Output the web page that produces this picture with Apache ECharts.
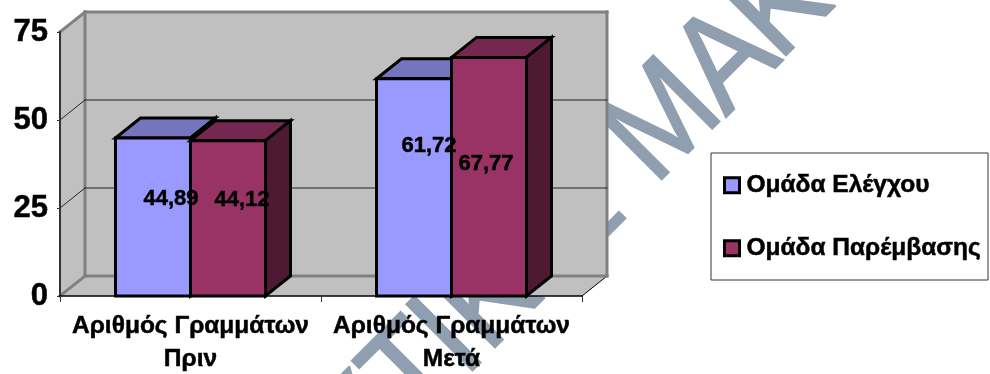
<!DOCTYPE html>
<html>
<head>
<meta charset="utf-8">
<style>html,body{margin:0;padding:0;background:#fff}#chart{width:990px;height:374px}</style>
<script src="https://cdn.jsdelivr.net/npm/echarts@6/dist/echarts.min.js"></script>
</head>
<body>
<div id="chart"></div>
<script>
// Chart data
const categories = ['Αριθμός Γραμμάτων\nΠριν', 'Αριθμός Γραμμάτων\nΜετά'];
const controlName = 'Ομάδα Ελέγχου';
const interventionName = 'Ομάδα Παρέμβασης';
const controlValues = [44.89, 61.72];
const interventionValues = [44.12, 67.77];
const yTicks = [0, 25, 50, 75];

// Pseudo-3D depth of the box and of the columns, in pixels
const DEPTH_X = 25;
const DEPTH_Y = 20;
const BAR_RATIO = 75 / 261;

const FONT = '"Liberation Sans", Arial, sans-serif';
const WALL = '#C0C0C0';
const WALL_EDGE = '#808080';

// Hand placement of the value labels relative to each column's centre
const labelShifts = {
  control: [[18, -18], [15, -41]],
  intervention: [[14, -18], [-3, -13]]
};

// Background wordmark, one rotated glyph at a time
const watermarkGlyphs = [
  ['Υ', 362, 433], ['Τ', 416, 376], ['Ι', 450, 340], ['Κ', 490, 299],
  ['Η', 545, 244], ['–', 596, 237], ['Μ', 664, 124], ['Α', 728, 62],
  ['Κ', 781, 7], ['Ε', 839, -50]
];

function line(x1, y1, x2, y2, stroke, width) {
  return { type: 'line', shape: { x1, y1, x2, y2 }, style: { stroke, lineWidth: width, lineCap: 'square' } };
}
function poly(points, fill) {
  return { type: 'polygon', shape: { points }, style: { fill, stroke: '#000', lineWidth: 3, lineJoin: 'miter' } };
}

// Floor, walls and gridlines: one row per tick value
function renderBox(params, api) {
  const value = api.value(0);
  const sys = params.coordSys;
  const left = sys.x, right = sys.x + sys.width;
  const y = api.coord([0, value])[1];
  const top = api.coord([0, yTicks[yTicks.length - 1]])[1];
  const base = api.coord([0, 0])[1];
  const children = [];
  if (params.dataIndex === 0) {
    children.push({
      type: 'polygon',
      shape: { points: [[left, top], [left + DEPTH_X, top - DEPTH_Y], [right + DEPTH_X, top - DEPTH_Y], [right + DEPTH_X, base - DEPTH_Y], [right, base], [left, base]] },
      style: { fill: WALL }
    });
    children.push(line(left + DEPTH_X, top - DEPTH_Y, left + DEPTH_X, base - DEPTH_Y, WALL_EDGE, 3));
    children.push(line(right + DEPTH_X, top - DEPTH_Y, right + DEPTH_X, base - DEPTH_Y, WALL_EDGE, 3));
    children.push(line(right, base, right + DEPTH_X, base - DEPTH_Y, '#000', 1));
  }
  const edge = value === 0 || value === yTicks[yTicks.length - 1];
  children.push(line(left + DEPTH_X, y - DEPTH_Y, right + DEPTH_X, y - DEPTH_Y, edge ? WALL_EDGE : '#222', edge ? 3 : 1));
  children.push(line(left, y, left + DEPTH_X, y - DEPTH_Y, edge ? WALL_EDGE : '#222', edge ? 3 : 1));
  return { type: 'group', children };
}

// One extruded column; slot is -1 for the left column of a pair, 0 for the right one
function columnRenderer(slot, front, topFace, sideFace) {
  return function (params, api) {
    const barW = api.size([1, 0])[0] * BAR_RATIO;
    const centre = api.coord([api.value(0), 0]);
    const head = api.coord([api.value(0), api.value(1)]);
    const x0 = centre[0] + slot * barW, x1 = x0 + barW;
    const y0 = head[1], y1 = centre[1];
    return {
      type: 'group',
      children: [
        poly([[x0, y0], [x0 + DEPTH_X, y0 - DEPTH_Y], [x1 + DEPTH_X, y0 - DEPTH_Y], [x1, y0]], topFace),
        poly([[x1, y0], [x1 + DEPTH_X, y0 - DEPTH_Y], [x1 + DEPTH_X, y1 - DEPTH_Y], [x1, y1]], sideFace),
        poly([[x0, y0], [x1, y0], [x1, y1], [x0, y1]], front)
      ]
    };
  };
}

// Value labels sit above both columns so they can overlap a neighbour
function labelRenderer(slot, shifts) {
  return function (params, api) {
    const barW = api.size([1, 0])[0] * BAR_RATIO;
    const value = api.value(1);
    const base = api.coord([api.value(0), 0]);
    const head = api.coord([api.value(0), value]);
    const shift = shifts[params.dataIndex];
    return {
      type: 'text',
      x: base[0] + (slot + 0.5) * barW + shift[0],
      y: (base[1] + head[1]) / 2 + shift[1],
      style: {
        text: value.toFixed(2).replace('.', ','),
        font: 'bold 22px ' + FONT,
        fill: '#000',
        stroke: '#000',
        lineWidth: 0.5,
        align: 'center',
        verticalAlign: 'middle'
      }
    };
  };
}

const rows = values => values.map((v, i) => [i, v]);

const chart = echarts.init(document.getElementById('chart'), null, { renderer: 'canvas' });
chart.setOption({
  animation: false,
  backgroundColor: '#fff',
  tooltip: { show: false },
  graphic: {
    z: -10,
    elements: watermarkGlyphs.map(g => ({
      type: 'text',
      silent: true,
      z: -10,
      x: g[1],
      y: g[2],
      rotation: Math.PI / 4,
      scaleX: 0.9,
      style: {
        text: g[0],
        font: '136px ' + FONT,
        fill: '#8F9FB0',
        stroke: '#8F9FB0',
        lineWidth: 2,
        lineJoin: 'round',
        align: 'center',
        verticalAlign: 'middle'
      }
    }))
  },
  grid: { left: 60, right: 408, top: 32, bottom: 78, outerBoundsMode: 'none' },
  legend: {
    orient: 'vertical',
    left: 711,
    top: 153,
    padding: [19.5, 7, 19, 12],
    itemWidth: 15,
    itemHeight: 15,
    itemGap: 37.5,
    backgroundColor: '#fff',
    borderColor: '#333',
    borderWidth: 1,
    borderRadius: 0,
    icon: 'rect',
    selectedMode: false,
    textStyle: { fontFamily: FONT, fontWeight: 'bold', fontSize: 24.5, color: '#000', padding: [0, 0, 0, 2], textBorderColor: '#000', textBorderWidth: 0.5 },
    data: [
      { name: controlName, itemStyle: { color: '#9999FF', borderColor: '#000', borderWidth: 3 } },
      { name: interventionName, itemStyle: { color: '#993366', borderColor: '#000', borderWidth: 3 } }
    ]
  },
  xAxis: {
    type: 'category',
    data: categories,
    z: 5,
    axisLine: { lineStyle: { color: '#000', width: 1.5 } },
    axisTick: { show: true, length: 6, lineStyle: { color: '#333', width: 1 } },
    axisLabel: {
      interval: 0,
      margin: 14,
      fontFamily: FONT,
      fontWeight: 'bold',
      fontSize: 24.5,
      lineHeight: 33,
      color: '#000',
      textBorderColor: '#000',
      textBorderWidth: 0.5
    }
  },
  yAxis: {
    type: 'value',
    min: 0,
    max: 75,
    interval: 25,
    z: 5,
    splitLine: { show: false },
    axisLine: { show: true, lineStyle: { color: '#333', width: 2 } },
    axisTick: { show: true, length: 3, lineStyle: { color: '#333', width: 1 } },
    axisLabel: {
      margin: 12,
      fontFamily: FONT,
      fontWeight: 'bold',
      fontSize: 31,
      color: '#000',
      textBorderColor: '#000',
      textBorderWidth: 0.5
    }
  },
  series: [
    {
      name: 'box', type: 'custom', z: 1, silent: true, clip: false,
      data: yTicks.map(v => [v]),
      encode: { y: 0 },
      renderItem: renderBox
    },
    {
      name: controlName, type: 'custom', z: 2, silent: true, clip: false,
      itemStyle: { color: '#9999FF' },
      data: rows(controlValues),
      encode: { x: 0, y: 1 },
      renderItem: columnRenderer(-1, '#9999FF', '#7575BE', '#4E1A33')
    },
    {
      name: interventionName, type: 'custom', z: 3, silent: true, clip: false,
      itemStyle: { color: '#993366' },
      data: rows(interventionValues),
      encode: { x: 0, y: 1 },
      renderItem: columnRenderer(0, '#993366', '#74284F', '#4E1A33')
    },
    {
      name: 'control values', type: 'custom', z: 4, silent: true, clip: false,
      data: rows(controlValues),
      encode: { x: 0, y: 1 },
      renderItem: labelRenderer(-1, labelShifts.control)
    },
    {
      name: 'intervention values', type: 'custom', z: 4, silent: true, clip: false,
      data: rows(interventionValues),
      encode: { x: 0, y: 1 },
      renderItem: labelRenderer(0, labelShifts.intervention)
    }
  ]
});
</script>
</body>
</html>
